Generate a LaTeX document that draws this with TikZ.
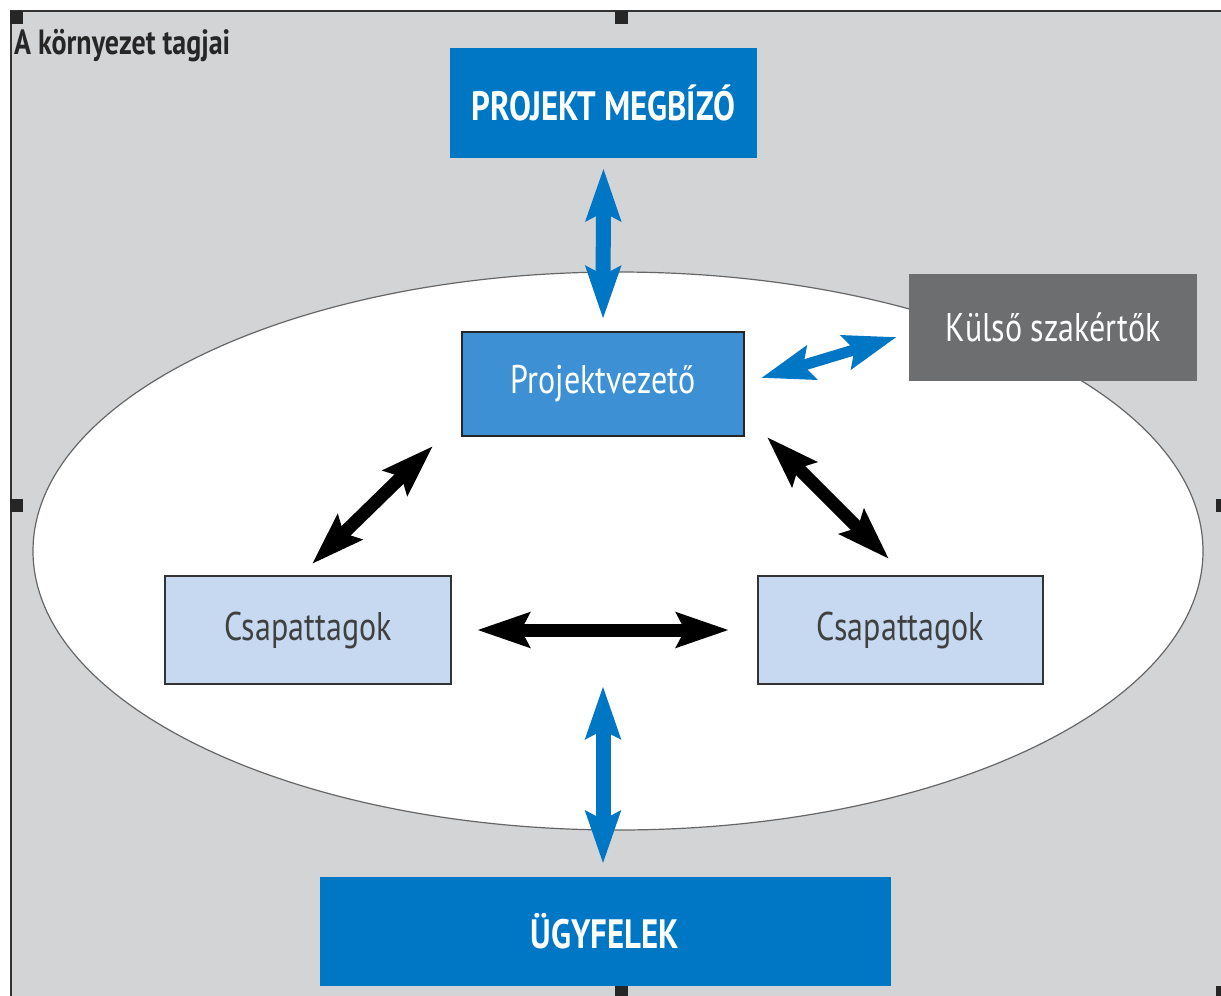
\documentclass[tikz,border=0pt]{standalone}
\usepackage{fontspec}
\setmainfont[FakeStretch=0.8]{PT Sans}
\usetikzlibrary{arrows.meta}
\definecolor{hatter}{HTML}{D3D4D6}
\definecolor{kek}{HTML}{0077C4}
\definecolor{kozepkek}{HTML}{3E90D5}
\definecolor{vilagoskek}{HTML}{C6D9F1}
\definecolor{szurke}{HTML}{6D6E70}
\begin{document}
\begin{tikzpicture}[x=1pt,y=-1pt,
 felirat/.style={inner sep=0,font=\fontsize{40}{48}\selectfont},
 kekdoboz/.style={felirat,fill=kek,text=white,font=\fontsize{41}{48}\selectfont\bfseries},
 tagdoboz/.style={felirat,fill=vilagoskek,draw=black!80,line width=2,text=black!75},
 nyil/.style={line width=13,{Stealth[length=52pt,width=34pt,inset=8pt]}-{Stealth[length=52pt,width=34pt,inset=8pt]}},
 keknyil/.style={nyil,line width=15,color=kek}]
\path[use as bounding box,clip] (0,0) rectangle (1221,996);
\draw[line width=2.5,draw=black!80,fill=hatter] (11,11) rectangle (1229,998);
\foreach \x/\y in {10/11, 615/11, 10/499, 1216/499, 615/986, 1216/986} \fill[black!85] (\x,\y) rectangle +(13,13);
\node[anchor=base west,inner sep=0,text=black!85,font=\fontsize{35}{40}\selectfont\bfseries] (T) at (14,54) {A környezet tagjai};
\draw[fill=white,draw=black!60,line width=1.2] (618,551) ellipse [x radius=585,y radius=279];
\path (603.5,103) node[kekdoboz,minimum width=307,minimum height=110] (M) {PROJEKT MEGBÍZÓ}
 (603,384) node[felirat,fill=kozepkek,draw=black!85,line width=2,text=white,minimum width=282,minimum height=104] (V) {Projektvezető}
 (1053,327.5) node[felirat,fill=szurke,text=white,minimum width=288,minimum height=107] (K) {Külső szakértők}
 (308,630) node[tagdoboz,minimum width=286,minimum height=108] (C1) {Csapattagok}
 (900.5,630) node[tagdoboz,minimum width=285,minimum height=108] (C2) {Csapattagok}
 (605,931.5) node[kekdoboz,minimum width=571,minimum height=109] (U) {ÜGYFELEK}
 (603,686) coordinate (e);
% kek nyilak
\draw[keknyil,shorten <=10,shorten >=12] (M.south) -- (V.north);
\draw[keknyil,shorten >=13] (e) -- (e|-U.north);
\draw[keknyil,line width=11] ([shift={(16,-6)}]V.east) -- ([shift={(-12,9.5)}]K.west);
% fekete nyilak
\draw[nyil] ([shift={(-28,9)}]V.south west) -- ([shift={(4,-11)}]C1.north);
\draw[nyil] ([shift={(22,0)}]V.south east) -- ([shift={(-11.5,-16)}]C2.north);
\draw[nyil,shorten <=25,shorten >=28] (C1.east) -- (C2.west);
\end{tikzpicture}
\end{document}
